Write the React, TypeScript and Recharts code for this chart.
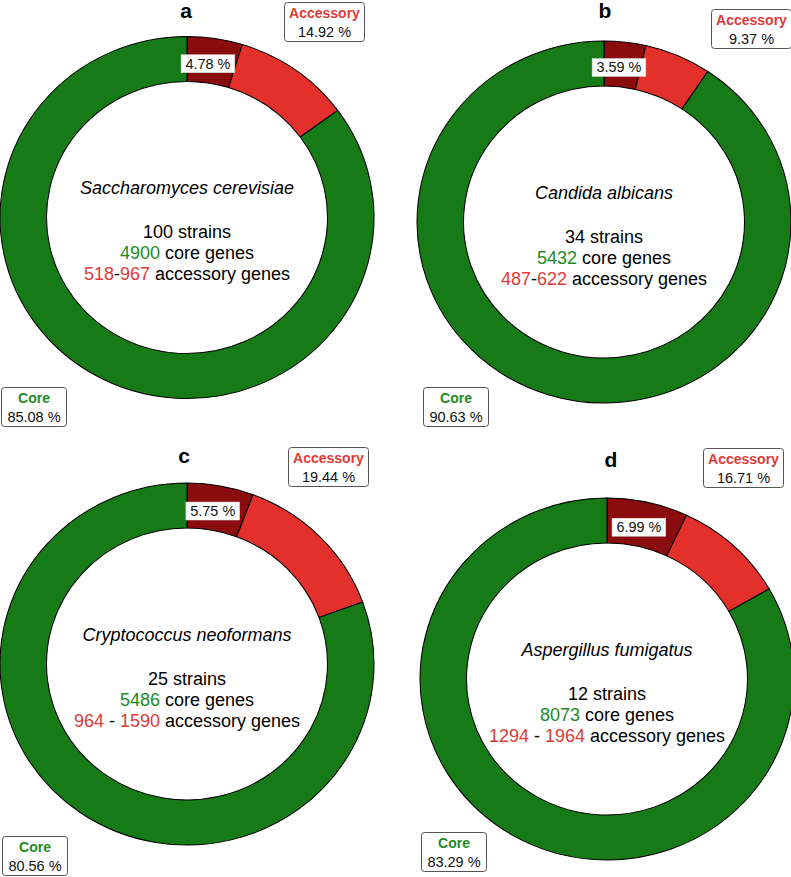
import React from 'react';
import { PieChart, Pie, Cell } from 'recharts';

const panelLetters = ['a', 'b', 'c', 'd'];
const species = ['Saccharomyces cerevisiae', 'Candida albicans', 'Cryptococcus neoformans', 'Aspergillus fumigatus'];
const strains = [100, 34, 25, 12];
const coreGenes = [4900, 5432, 5486, 8073];
const accessoryMin = [518, 487, 964, 1294];
const accessoryMax = [967, 622, 1590, 1964];
const rangeSeparator = ['-', '-', ' - ', ' - '];
const corePct = [85.08, 90.63, 80.56, 83.29];
const accessoryPct = [14.92, 9.37, 19.44, 16.71];
const rarePct = [4.78, 3.59, 5.75, 6.99];

const GREEN = '#167a16';
const RED = '#e3302b';
const DARK_RED = '#8a0c0c';
const TEXT_GREEN = '#1f8a1f';
const TEXT_RED = '#e03a36';
const FONT = '"Liberation Sans", Arial, Helvetica, sans-serif';
const RADIAN = Math.PI / 180;
const STRETCH_X = 1.033;

// layout per panel: box left/top, width/height, center in box
const layout = [
  { left: 0, top: 0, w: 395, h: 440, cx: 187, cy: 217.5, titleX: 186, titleY: 18, acc: [284, 2], core: [1, 387] },
  { left: 395, top: 0, w: 396, h: 440, cx: 209, cy: 222, titleX: 210, titleY: 18, acc: [316, 9], core: [28, 387] },
  { left: 0, top: 440, w: 395, h: 437, cx: 187, cy: 224, titleX: 184, titleY: 23, acc: [288, 7], core: [2, 396] },
  { left: 395, top: 440, w: 396, h: 437, cx: 212, cy: 239, titleX: 216, titleY: 27, acc: [308, 8], core: [26, 392] },
];

const renderRareLabel = (props: any) => {
  if (props.index !== 0) return null;
  const r = (props.innerRadius + props.outerRadius) / 2 - 3;
  const x = props.cx + r * Math.cos(-props.midAngle * RADIAN) - 3;
  const y = props.cy + r * Math.sin(-props.midAngle * RADIAN);
  return (
    <g>
      <rect x={x - 26} y={y - 9} width={52} height={18} fill="#fff" stroke="#d8d8d8" strokeWidth={0.5} />
      <text x={x} y={y + 5} textAnchor="middle" fontSize={14} fontFamily={FONT} fill="#111">
        {props.value.toFixed(2)} %
      </text>
    </g>
  );
};

function Panel({ i }: { i: number }) {
  const L = layout[i];
  const data = [
    { name: 'rare', value: rarePct[i], color: DARK_RED },
    { name: 'accessory', value: +(accessoryPct[i] - rarePct[i]).toFixed(2), color: RED },
    { name: 'core', value: corePct[i], color: GREEN },
  ];
  const [ax, ay] = L.acc;
  const [kx, ky] = L.core;
  return (
    <div style={{ position: 'absolute', left: L.left, top: L.top, width: L.w, height: L.h }}>
      <div
        style={{
          position: 'absolute',
          left: 0,
          top: 0,
          width: L.w,
          height: L.h,
          transform: `scaleX(${STRETCH_X})`,
          transformOrigin: `${L.cx}px ${L.cy}px`,
        }}
      >
        <PieChart width={L.w} height={L.h} margin={{ top: 0, right: 0, bottom: 0, left: 0 }}>
          <Pie
            data={data}
            dataKey="value"
            cx={L.cx}
            cy={L.cy}
            innerRadius={136}
            outerRadius={181}
            startAngle={90}
            endAngle={-270}
            stroke="#000"
            strokeWidth={1}
            isAnimationActive={false}
            label={renderRareLabel}
            labelLine={false}
          >
            {data.map((d) => (
              <Cell key={d.name} fill={d.color} />
            ))}
          </Pie>
        </PieChart>
      </div>
      <svg
        width={L.w}
        height={L.h}
        style={{ position: 'absolute', left: 0, top: 0, pointerEvents: 'none', overflow: 'visible' }}
        fontFamily={FONT}
      >
        <text x={L.titleX} y={L.titleY} textAnchor="middle" fontSize={21} fontWeight="bold" fill="#000">
          {panelLetters[i]}
        </text>
        <rect x={ax + 0.5} y={ay + 0.5} width={80} height={39} rx={3} fill="#fff" stroke="#555" strokeWidth={1} />
        <text x={ax + 40.5} y={ay + 16} textAnchor="middle" fontSize={14} fontWeight="bold" fill={TEXT_RED}>
          Accessory
        </text>
        <text x={ax + 40.5} y={ay + 35} textAnchor="middle" fontSize={14.5} fill="#111">
          {accessoryPct[i].toFixed(2)} %
        </text>
        <rect x={kx + 0.5} y={ky + 0.5} width={65} height={39} rx={3} fill="#fff" stroke="#555" strokeWidth={1} />
        <text x={kx + 33} y={ky + 16} textAnchor="middle" fontSize={14} fontWeight="bold" fill={TEXT_GREEN}>
          Core
        </text>
        <text x={kx + 33} y={ky + 35} textAnchor="middle" fontSize={14.5} fill="#111">
          {corePct[i].toFixed(2)} %
        </text>
        <text x={L.cx} y={L.cy - 23.5} textAnchor="middle" fontSize={18} fontStyle="italic" fill="#000">
          {species[i]}
        </text>
        <text x={L.cx} y={L.cy + 20.5} textAnchor="middle" fontSize={18} fill="#000">
          {strains[i]} strains
        </text>
        <text x={L.cx} y={L.cy + 41.5} textAnchor="middle" fontSize={18} fill="#000">
          <tspan fill={TEXT_GREEN}>{coreGenes[i]}</tspan> core genes
        </text>
        <text x={L.cx} y={L.cy + 62.5} textAnchor="middle" fontSize={18} fill="#000">
          <tspan fill={TEXT_RED}>{accessoryMin[i]}</tspan>
          {rangeSeparator[i]}
          <tspan fill={TEXT_RED}>{accessoryMax[i]}</tspan> accessory genes
        </text>
      </svg>
    </div>
  );
}

export default function App() {
  return (
    <div style={{ position: 'absolute', left: 0, top: 0, width: 791, height: 877, background: '#fff', fontFamily: FONT }}>
      {[0, 1, 2, 3].map((i) => (
        <Panel key={i} i={i} />
      ))}
    </div>
  );
}
